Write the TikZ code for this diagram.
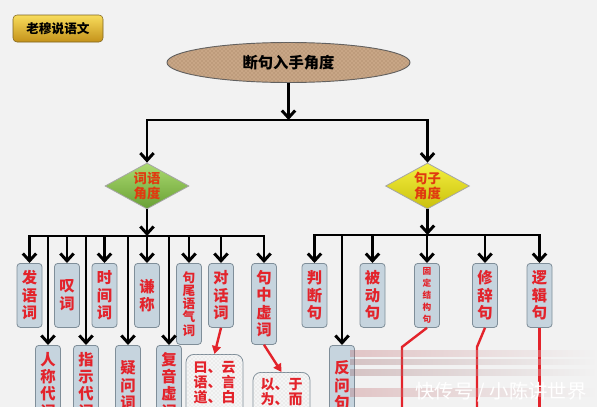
\documentclass[tikz,border=0pt]{standalone}
\usepackage{fontspec}
\newfontfamily\cjk{Noto Sans CJK SC}
\usetikzlibrary{arrows.meta,shapes.geometric,patterns,positioning}
\definecolor{bg}{HTML}{F2F2F2}
\definecolor{boxfill}{HTML}{C6D4DE}
\definecolor{boxline}{HTML}{7F8E99}
\definecolor{wordred}{HTML}{E3232B}
\definecolor{notefill}{HTML}{F4F5F5}
\definecolor{tanfill}{HTML}{C8A686}
\definecolor{tandot}{HTML}{A17C5B}

\begin{document}
\begin{tikzpicture}[x=0.75pt,y=-0.75pt,
  busline/.style={line width=2.2pt,black,line cap=rect},
  blackarrow/.style={line width=2.2pt,black,-{Straight Barb[length=5.5pt,width=10pt]}},
  redarrow/.style={line width=1.8pt,wordred,-{Triangle[length=6pt,width=6.5pt]}},
  redline/.style={line width=1.8pt,wordred},
  wordbox/.style={draw=boxline,line width=0.6pt,fill=boxfill,rounded corners=2.5pt,
    anchor=north,inner sep=0pt,minimum width=18.75pt,minimum height=48pt,align=center,
    text=wordred,font=\cjk\bfseries\fontsize{11.5}{13.1}\selectfont},
  longbox/.style={wordbox,minimum height=60.75pt},
  lowbox/.style={wordbox,minimum height=60pt},
  notebox/.style={draw=boxline,line width=0.6pt,fill=notefill,rounded corners=6pt,
    postaction={pattern=crosshatch dots,pattern color=gray!35},
    anchor=north,inner xsep=0pt,inner ysep=5pt,minimum width=42.75pt,text depth=60pt,
    align=center,text=wordred,font=\cjk\bfseries\fontsize{10.5}{11.5}\selectfont},
  angle/.style={shape=diamond,draw=gray!70,line width=0.6pt,inner sep=0pt,aspect=1.83,
    minimum width=63pt,minimum height=34.5pt,align=center,text={rgb,255:red,224;green,58;blue,16},
    font=\cjk\bfseries\fontsize{10}{11.5}\selectfont}]

  % background and frame
  \clip (0,0) rectangle (597,407);
  \fill[bg] (0,0) rectangle (597,407);

  % label button and title
  \node (tag) at (58,28.5) [draw={rgb,255:red,125;green,100;blue,32},rounded corners=3pt,
    top color={rgb,255:red,248;green,220;blue,92},bottom color={rgb,255:red,196;green,146;blue,26},
    minimum width=67.5pt,minimum height=20.25pt,inner sep=0pt,
    font=\cjk\bfseries\fontsize{9.5}{11}\selectfont] {老穆说语文};
  \node (title) at (288.5,62.5) [ellipse,draw=gray!75!black,line width=0.7pt,fill=tanfill,
    postaction={pattern=crosshatch dots,pattern color=tandot},
    minimum width=182.25pt,minimum height=30pt,inner sep=0pt,
    font=\cjk\bfseries\fontsize{11.5}{13}\selectfont] {断句入手角度};

  % two angles
  \node[angle,top color={rgb,255:red,172;green,218;blue,112},bottom color={rgb,255:red,104;green,160;blue,52}]
    (ci) at (147,186) {词语\\角度};
  \node[angle,top color={rgb,255:red,244;green,240;blue,64},bottom color={rgb,255:red,202;green,192;blue,12}]
    (ju) at (427.5,186) {句子\\角度};

  \coordinate (tbus) at (0,120);
  \draw[blackarrow] (title.south) -- (title.south |- tbus);
  \draw[busline] (ci.north |- tbus) -- (ju.north |- tbus);
  \draw[blackarrow] (ci.north |- tbus) -- (ci.north);
  \draw[blackarrow] (ju.north |- tbus) -- (ju.north);

  % word boxes, upper row
  \node[wordbox] (fa) at (29.5,263) {发\\语\\词};
  \node[wordbox] (tan) at (67,263) {叹\\词};
  \node[wordbox] (shi) at (104.5,263) {时\\间\\词};
  \node[wordbox] (qian) at (147,263) {谦\\称};
  \node[longbox,font=\cjk\bfseries\fontsize{9.5}{9.9}\selectfont] (jw) at (189,263) {句\\尾\\语\\气\\词};
  \node[wordbox] (dh) at (221,263) {对\\话\\词};
  \node[longbox] (jz) at (264,263) {句\\中\\虚\\词};

  % word boxes, lower row
  \node[lowbox] (rc) at (48,345) {人\\称\\代\\词};
  \node[lowbox] (zs) at (86,345) {指\\示\\代\\词};
  \node[lowbox] (yw) at (128,345) {疑\\问\\词};
  \node[lowbox] (fy) at (169,345) {复\\音\\虚\\词};

  % notes
  \node[notebox] (yy) at (214.5,354) {曰、云\\语、言\\道、白};
  \node[notebox,inner ysep=4pt] (yi) at (281.5,372) {以、于\\为、而};

  \coordinate (lbus) at (0,236);
  \draw[blackarrow] (ci.south) -- (ci.south |- lbus);
  \draw[busline] (fa.north |- lbus) -- (jz.north |- lbus);
  \foreach \b in {fa,tan,shi,qian,jw,dh,jz,rc,zs,yw,fy}
    \draw[blackarrow] (\b.north |- lbus) -- (\b.north);
  \draw[redarrow] (dh.south) -- (yy.north);
  \draw[redarrow] (jz.south) -- (yi.north);

  % sentence boxes
  \node[wordbox] (pd) at (314.5,263) {判\\断\\句};
  \node[wordbox] (bd) at (372.5,263) {被\\动\\句};
  \node[wordbox,font=\cjk\bfseries\fontsize{6.5}{9}\selectfont] (gd) at (427,263) {固\\定\\结\\构\\句};
  \node[wordbox] (xc) at (485,263) {修\\辞\\句};
  \node[wordbox] (lj) at (539.5,263) {逻\\辑\\句};
  \node[lowbox] (fw) at (342,345) {反\\问\\句};

  \coordinate (rbus) at (0,235);
  \draw[blackarrow] (ju.south) -- (ju.south |- rbus);
  \draw[busline] (pd.north |- rbus) -- (lj.north |- rbus);
  \foreach \b in {pd,fw,bd,gd,xc,lj}
    \draw[blackarrow] (\b.north |- rbus) -- (\b.north);

  % red leads running off the bottom
  \coordinate (gdk) at (402,347);
  \coordinate (gde) at (402,420);
  \coordinate (xck) at (477,347);
  \coordinate (xce) at (477,420);
  \coordinate (lje) at (539.5,420);
  \draw[redline] (gd.south) -- (gdk) -- (gde);
  \draw[redline] (xc.south) -- (xck) -- (xce);
  \draw[redline] (lj.south) -- (lje);

  % smeared bands and watermark
  \foreach \ya/\yb/\c in {350/356/70,359/364/45,369/375/45,388/396/70}
    \shade[left color=wordred!\c!black!70,right color=bg,opacity=0.3] (350,\ya) rectangle (595,\yb);
  \node (mark) at (501,392) [text=white,font=\cjk\fontsize{14.5}{16}\selectfont] {快传号 / 小陈讲世界};
\end{tikzpicture}
\end{document}
